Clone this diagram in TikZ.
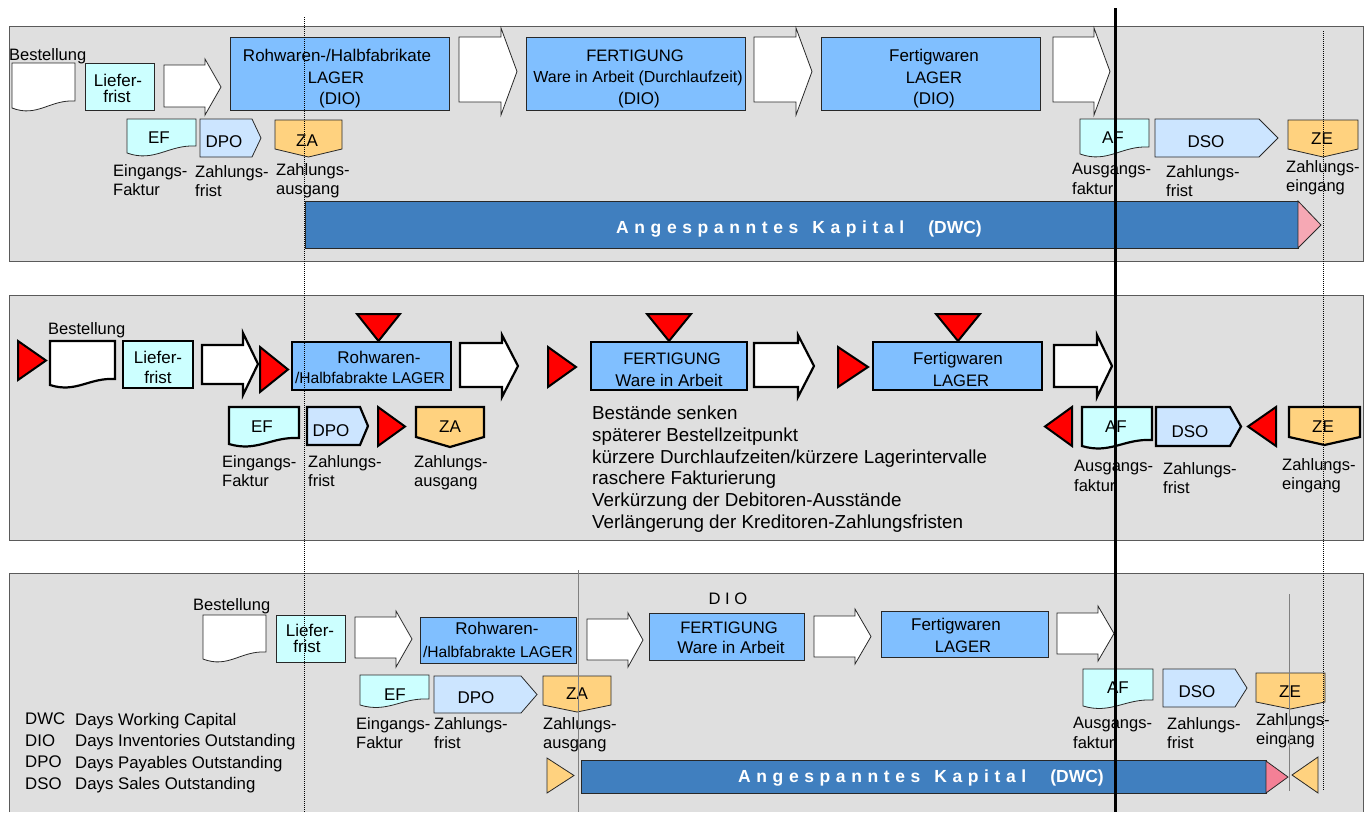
\documentclass[tikz,border=0pt]{standalone}
\usepackage{fontspec}
\setmainfont{Liberation Sans}

\definecolor{panelgray}{RGB}{223,223,223}
\definecolor{panelline}{RGB}{90,90,90}
\definecolor{lagerblue}{RGB}{128,191,255}
\definecolor{cyanlight}{RGB}{204,255,255}
\definecolor{paleblue}{RGB}{204,229,255}
\definecolor{zaorange}{RGB}{255,210,127}
\definecolor{barblue}{RGB}{64,127,191}
\definecolor{pinklight}{RGB}{246,168,180}
\definecolor{pinkdeep}{RGB}{244,128,150}
\definecolor{boxline}{RGB}{40,40,40}

% document symbol with wavy bottom: [style]{x0}{ytop}{x1}{y left bottom}{rise}
\newcommand\docshp[6][]{\draw[#1] (#2,#3) -- (#4,#3) -- (#4,{#5-#6})
  .. controls ({#2+0.6*(#4-#2)},{#5-#6-1.5}) and ({#2+0.4*(#4-#2)},{#5+1.4*#6}) .. (#2,#5) -- cycle;}
% pentagon pointing right: [style]{x0}{ytop}{xbody}{xtip}{ybottom}
\newcommand\pentR[6][]{\draw[#1] (#2,#3) -- (#4,#3) -- (#5,{(#3+#6)/2}) -- (#4,#6) -- (#2,#6) -- cycle;}
% pentagon pointing down: [style]{x0}{ytop}{x1}{yside}{ypoint}
\newcommand\pentD[6][]{\draw[#1] (#2,#3) -- (#4,#3) -- (#4,#5) -- ({(#2+#4)/2},#6) -- (#2,#5) -- cycle;}
% block arrow: [style]{xbody0}{xbody1}{xtip}{ybody0}{ybody1}{yhead0}{yhead1}
\newcommand\fatarr[8][]{\draw[#1] (#2,#5) -- (#3,#5) -- (#3,#7) -- (#4,{(#7+#8)/2}) -- (#3,#8) -- (#3,#6) -- (#2,#6) -- cycle;}
% horizontal triangle: [style]{xbase}{xtip}{y0}{y1}
\newcommand\triH[5][]{\draw[#1] (#2,#4) -- (#3,{(#4+#5)/2}) -- (#2,#5) -- cycle;}
% triangle pointing down: [style]{x0}{x1}{ytop}{ytip}
\newcommand\triD[5][]{\draw[#1] (#2,#4) -- (#3,#4) -- ({(#2+#3)/2},#5) -- cycle;}
% tracked bar caption
\newcommand\barcaption{{\addfontfeatures{LetterSpace=32}Angespanntes\hspace{14pt}Kapital}\hspace{24pt}(DWC)}

\begin{document}
\begin{tikzpicture}[x=1pt,y=-1pt,
  panel/.style={fill=panelgray,draw=panelline,line width=1pt},
  thinln/.style={draw=boxline,line width=0.8pt},
  thickln/.style={draw=black,line width=2.2pt},
  lager/.style={fill=lagerblue},
  cyanf/.style={fill=cyanlight},
  palef/.style={fill=paleblue},
  orangef/.style={fill=zaorange},
  redtri/.style={fill=red,draw=black,line width=2pt},
  lbl/.style={font=\fontsize{16.5}{19.5}\selectfont,inner sep=0pt,align=left,anchor=north west},
  ln/.style={font=\fontsize{17}{20}\selectfont,inner sep=0pt,anchor=base},
  capln/.style={ln,font=\fontsize{16.6}{20}\selectfont},
  subln/.style={ln,font=\fontsize{15.6}{20}\selectfont},
  bartxt/.style={font=\fontsize{17.5}{20}\selectfont\bfseries,text=white,inner sep=0pt,anchor=base west},
  blocktxt/.style={font=\fontsize{18.8}{21.7}\selectfont,inner sep=0pt,align=left,anchor=north west},
  legtxt/.style={font=\fontsize{16.8}{21.5}\selectfont,inner sep=0pt,align=left,anchor=north west}]
\useasboundingbox (0,0) rectangle (1371,812);

% ---------------- upper panel: current cycle ----------------
\draw[panel] (9,26) rectangle (1363,261);
\docshp[thinln,fill=white]{12}{63}{75}{108}{7}
\draw[thinln,cyanf] (85,63) rectangle (154,110);
\fatarr[thinln,fill=white]{164}{205}{221}{65}{107}{59}{115}
\draw[thinln,lager] (230,37) rectangle (449,110);
\fatarr[thinln,fill=white]{459}{501}{517}{37}{102}{28}{115}
\draw[thinln,lager] (526,37) rectangle (745,110);
\fatarr[thinln,fill=white]{754}{796}{812}{37}{102}{28}{115}
\draw[thinln,lager] (821,37) rectangle (1040,110);
\fatarr[thinln,fill=white]{1053}{1094}{1110}{37}{102}{28}{115}
\docshp[thinln,cyanf]{127}{119}{196}{153}{7}
\pentR[thinln,palef]{200}{119}{252}{261}{157}
\pentD[thinln,orangef]{275}{120}{342}{149}{157}
\docshp[thinln,cyanf]{1080}{119}{1149}{154}{7}
\pentR[thinln,palef]{1155}{119}{1259}{1278}{157}
\pentD[thinln,orangef]{1288}{120}{1358}{149}{157}
\draw[thinln,fill=barblue] (305,201) rectangle (1298,248);
\draw[thinln,fill=pinklight] (1298,201) -- (1321,225) -- (1298,248) -- cycle;

\node[lbl] (aBest) at (9,48) {Bestellung};
\node[ln] (aLief1) at (118,86) {Liefer-};
\node[ln] (aLief2) at (117,102) {frist};
\node[ln] (aRoh1) at (337,61) {Rohwaren-/Halbfabrikate};
\node[capln] (aRoh2) at (336,83) {LAGER};
\node[ln] (aRoh3) at (340,104) {(DIO)};
\node[capln] (aFer1) at (635,61) {FERTIGUNG};
\node[ln,font=\fontsize{16}{20}\selectfont] (aFer2) at (638,82) {Ware in Arbeit (Durchlaufzeit)};
\node[ln] (aFer3) at (639,104) {(DIO)};
\node[ln] (aFw1) at (934,61) {Fertigwaren};
\node[capln] (aFw2) at (934,83) {LAGER};
\node[ln] (aFw3) at (934,104) {(DIO)};
\node[ln] (aEF) at (159,143) {EF};
\node[ln] (aDPO) at (224,147) {DPO};
\node[ln] (aZA) at (307,146) {ZA};
\node[ln] (aAF) at (1113,143) {AF};
\node[ln] (aDSO) at (1206,147) {DSO};
\node[ln] (aZE) at (1322,144) {ZE};
\node[lbl] (aEing) at (113,164) {Eingangs-\\Faktur};
\node[lbl] (aZfr) at (195,165) {Zahlungs-\\frist};
\node[lbl] (aZaus) at (276,163) {Zahlungs-\\ausgang};
\node[lbl] (aAusg) at (1072,163) {Ausgangs-\\faktur};
\node[lbl] (aZfr2) at (1166,165) {Zahlungs-\\frist};
\node[lbl] (aZein) at (1286,160) {Zahlungs-\\eingang};
\node[bartxt] (aBar) at (616,233) {\barcaption};

% ---------------- middle panel: levers ----------------
\draw[panel] (9,295) rectangle (1363,540);
\triH[redtri]{18}{46}{341}{380}
\docshp[thickln,fill=white]{50}{341}{115}{385}{6}
\draw[thickln,cyanf] (123,341) rectangle (193,388);
\fatarr[thickln,fill=white]{202}{243}{258}{345}{384}{333}{395}
\triH[redtri]{260}{288}{347}{392}
\draw[thickln,lager] (292,342) rectangle (451,390);
\triD[redtri]{357}{400}{314}{341}
\fatarr[thickln,fill=white]{460}{502}{518}{343}{387}{335}{397}
\triH[redtri]{548}{576}{347}{387}
\draw[thickln,lager] (591,342) rectangle (747,390);
\triD[redtri]{647}{691}{314}{341}
\fatarr[thickln,fill=white]{754}{798}{814}{343}{387}{335}{397}
\triH[redtri]{838}{868}{347}{387}
\draw[thickln,lager] (873,342) rectangle (1042,390);
\triD[redtri]{936}{980}{314}{341}
\fatarr[thickln,fill=white]{1054}{1097}{1112}{345}{387}{335}{397}
\docshp[thickln,cyanf]{229}{407}{299}{444}{6}
\pentR[thickln,palef]{307}{407}{360}{368}{445}
\triH[redtri]{378}{405}{407}{446}
\pentD[thickln,orangef]{416}{407}{484}{437}{447}
\triH[redtri]{1072}{1045}{407}{446}
\docshp[thickln,cyanf]{1082}{407}{1152}{446}{6}
\pentR[thickln,palef]{1156}{407}{1230}{1241}{446}
\triH[redtri]{1276}{1248}{407}{446}
\pentD[thickln,orangef]{1289}{407}{1360}{437}{445}

\node[lbl] (bBest) at (48,322) {Bestellung};
\node[ln] (bLief1) at (158,363) {Liefer-};
\node[ln] (bLief2) at (158,383) {frist};
\node[ln] (bRoh1) at (379,363) {Rohwaren-};
\node[subln] (bRoh2) at (370,383) {/Halbfabrakte LAGER};
\node[capln] (bFer1) at (672,364) {FERTIGUNG};
\node[ln] (bFer2) at (669,386) {Ware in Arbeit};
\node[ln] (bFw1) at (958,364) {Fertigwaren};
\node[capln] (bFw2) at (961,386) {LAGER};
\node[ln] (bEF) at (262,432) {EF};
\node[ln] (bDPO) at (331,436) {DPO};
\node[ln] (bZA) at (450,432) {ZA};
\node[ln] (bAF) at (1116,432) {AF};
\node[ln] (bDSO) at (1190,437) {DSO};
\node[ln] (bZE) at (1323,432) {ZE};
\node[lbl] (bEing) at (222,455) {Eingangs-\\Faktur};
\node[lbl] (bZfr) at (308,455) {Zahlungs-\\frist};
\node[lbl] (bZaus) at (414,455) {Zahlungs-\\ausgang};
\node[lbl] (bAusg) at (1074,460) {Ausgangs-\\faktur};
\node[lbl] (bZfr2) at (1163,462) {Zahlungs-\\frist};
\node[lbl] (bZein) at (1282,458) {Zahlungs-\\eingang};
\node[blocktxt] (bList) at (592,406) {Bestände senken\\späterer Bestellzeitpunkt\\kürzere Durchlaufzeiten/kürzere Lagerintervalle\\raschere Fakturierung\\Verkürzung der Debitoren-Ausstände\\Verlängerung der Kreditoren-Zahlungsfristen};

% ---------------- lower panel: shortened cycle ----------------
\fill[panelgray] (9,573) rectangle (1363,812);
\draw[panelline,line width=1pt] (9,812) -- (9,573) -- (1363,573) -- (1363,812);
\docshp[thinln,fill=white]{203}{615}{266}{659}{7}
\draw[thinln,cyanf] (276,615) rectangle (345,662);
\fatarr[thinln,fill=white]{355}{396}{412}{617}{658}{611}{667}
\draw[thinln,lager] (420,617) rectangle (576,663);
\fatarr[thinln,fill=white]{587}{628}{643}{619}{660}{613}{667}
\draw[thinln,lager] (649,613) rectangle (804,660);
\fatarr[thinln,fill=white]{814}{855}{871}{616}{657}{609}{664}
\draw[thinln,lager] (881,611) rectangle (1048,657);
\fatarr[thinln,fill=white]{1057}{1098}{1114}{613}{654}{606}{661}
\docshp[thinln,cyanf]{360}{675}{429}{705}{6}
\pentR[thinln,palef]{434}{676}{521}{537}{713}
\pentD[thinln,orangef]{543}{676}{611}{705}{712}
\docshp[thinln,cyanf]{1083}{669}{1153}{706}{6}
\pentR[thinln,palef]{1163}{669}{1235}{1247}{707}
\pentD[thinln,orangef]{1256}{673}{1325}{702}{709}
\triH[thinln,orangef]{547}{574}{758}{793}
\draw[thinln,fill=barblue] (581,760) rectangle (1266,793);
\draw[thinln,fill=pinkdeep] (1266,761) -- (1288,777) -- (1266,793) -- cycle;
\triH[thinln,orangef]{1318}{1292}{757}{793}

\node[lbl] (cBest) at (193,598) {Bestellung};
\node[ln] (cLief1) at (310,636) {Liefer-};
\node[ln] (cLief2) at (307,652) {frist};
\node[ln] (cRoh1) at (497,634) {Rohwaren-};
\node[subln] (cRoh2) at (498,657) {/Halbfabrakte LAGER};
\node[capln] (cDIO) at (728,604) {D I O};
\node[capln] (cFer1) at (729,633) {FERTIGUNG};
\node[ln] (cFer2) at (731,653) {Ware in Arbeit};
\node[ln] (cFw1) at (956,630) {Fertigwaren};
\node[capln] (cFw2) at (963,652) {LAGER};
\node[ln] (cEF) at (395,700) {EF};
\node[ln] (cDPO) at (476,703) {DPO};
\node[ln] (cZA) at (577,699) {ZA};
\node[ln] (cAF) at (1118,693) {AF};
\node[ln] (cDSO) at (1197,697) {DSO};
\node[ln] (cZE) at (1290,697) {ZE};
\node[lbl] (cEing) at (356,717) {Eingangs-\\Faktur};
\node[lbl] (cZfr) at (434,717) {Zahlungs-\\frist};
\node[lbl] (cZaus) at (543,717) {Zahlungs-\\ausgang};
\node[lbl] (cAusg) at (1073,717) {Ausgangs-\\faktur};
\node[lbl] (cZfr2) at (1167,717) {Zahlungs-\\frist};
\node[lbl] (cZein) at (1256,713) {Zahlungs-\\eingang};
\node[bartxt] (cBar) at (738,782) {\barcaption};
\node[legtxt] (cAbbr) at (25,713) {DWC\\DIO\\DPO\\DSO};
\node[legtxt] (cDesc) at (75,713) {Days Working Capital\\Days Inventories Outstanding\\Days Payables Outstanding\\Days Sales Outstanding};

% ---------------- reference lines across the panels ----------------
\draw[densely dotted,line width=1pt] (304,17) -- (304,812);
\draw[densely dotted,line width=1pt] (1323,31) -- (1323,790);
\draw[gray,line width=0.8pt] (578,570) -- (578,812);
\draw[gray,line width=0.8pt] (1289,594) -- (1289,791);
\draw[line width=3pt] (1115,8) -- (1115,812);
\end{tikzpicture}
\end{document}
